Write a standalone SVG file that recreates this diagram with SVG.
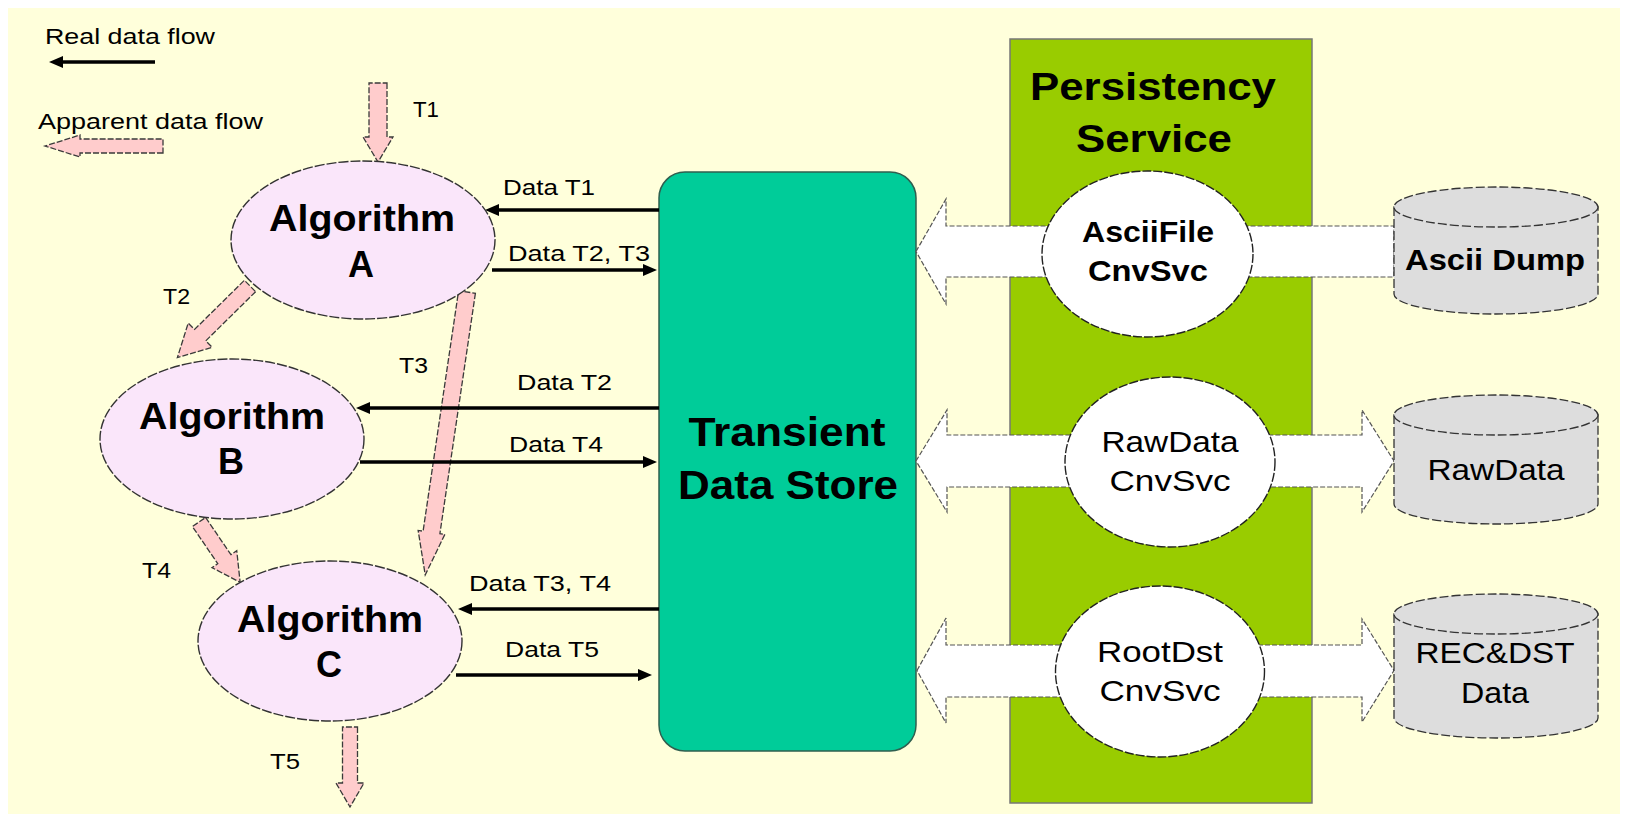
<svg xmlns="http://www.w3.org/2000/svg" width="1628" height="819" viewBox="0 0 1628 819">
  <defs>
    <style>
      .t { font-family: "Liberation Sans", Arial, sans-serif; fill: #000; }
      .sm { font-size: 22px; }
      .alg { font-size: 36px; font-weight: bold; }
      .big { font-size: 40px; font-weight: bold; }
      .svc { font-size: 30px; }
      .b { font-weight: bold; }
      .algo { fill: #FAE6FA; stroke: #333; stroke-width: 1.4; stroke-dasharray: 10 2; }
      .pink { fill: #FFCCCC; stroke: #3A3A3A; stroke-width: 1.3; stroke-dasharray: 6 2; }
      .flow { fill: #FFFFFF; stroke: #555; stroke-width: 1.2; stroke-dasharray: 5 2; }
      .cnv { fill: #FFFFFF; stroke: #222; stroke-width: 1.4; stroke-dasharray: 9 2; }
      .cyl { fill: #DDDDDD; stroke: #333; stroke-width: 1.3; stroke-dasharray: 9 3; }
      .real { stroke: #000; stroke-width: 3.5; fill: none; marker-end: url(#head); }
    </style>
    <marker id="head" viewBox="0 0 14 12" refX="9" refY="6" markerWidth="14" markerHeight="12" markerUnits="userSpaceOnUse" orient="auto">
      <path d="M0,0 L14,6 L0,12 Z" fill="#000"/>
    </marker>
  </defs>

  <!-- page -->
  <rect x="0" y="0" width="1628" height="819" fill="#FFFFFF"/>
  <rect x="8" y="8" width="1612" height="806" fill="#FFFFDB"/>

  <!-- legend -->
  <g id="legend">
    <text class="t sm" x="45" y="44" textLength="170" lengthAdjust="spacingAndGlyphs">Real data flow</text>
    <line class="real" x1="155" y1="62" x2="54" y2="62"/>
    <text class="t sm" x="38" y="129" textLength="225" lengthAdjust="spacingAndGlyphs">Apparent data flow</text>
    <polygon class="pink" transform="translate(163,146) rotate(180)" points="0,-7 83,-7 83,-11 118,0 83,11 83,7 0,7"/>
  </g>

  <!-- persistency service column -->
  <g id="persistency-service">
    <rect x="1010" y="39" width="302" height="764" fill="#99CC00" stroke="#777" stroke-width="1.5"/>
    <text class="t big" x="1153" y="100" text-anchor="middle" textLength="246" lengthAdjust="spacingAndGlyphs" style="font-size:38px">Persistency</text>
    <text class="t big" x="1154" y="152" text-anchor="middle" textLength="156" lengthAdjust="spacingAndGlyphs" style="font-size:38px">Service</text>
  </g>

  <!-- transient data store -->
  <g id="transient-data-store">
    <rect x="659" y="172" width="257" height="579" rx="26" ry="26" fill="#00CC99" stroke="#2F5F4F" stroke-width="1.5"/>
    <text class="t big" x="787" y="446" text-anchor="middle" textLength="197" lengthAdjust="spacingAndGlyphs">Transient</text>
    <text class="t big" x="788" y="499" text-anchor="middle" textLength="220" lengthAdjust="spacingAndGlyphs">Data Store</text>
  </g>

  <!-- connectors -->
  <g id="connectors">
    <!-- conversion flows between the store and persistent data -->
    <polygon class="flow" points="916,251.5 946,199 946,226 1394,226 1394,277 946,277 946,304"/>
    <polygon class="flow" points="916,461 947,410 947,435 1362,435 1362,410 1394,461 1362,512 1362,487 947,487 947,512"/>
    <polygon class="flow" points="917,670.5 946,618 946,645 1362,645 1362,619 1394,670.5 1362,722 1362,697 946,697 946,723"/>

    <!-- apparent data flow between algorithms -->
    <polygon class="pink" transform="translate(378,83) rotate(90)" points="0,-9 54,-9 54,-15 79,0 54,15 54,9 0,9"/>
    <polygon class="pink" transform="translate(250,286) rotate(135.4)" points="0,-8 70,-8 70,-17 102,0 70,17 70,8 0,8"/>
    <polygon class="pink" transform="translate(467,292) rotate(98.4)" points="0,-8.5 243,-8.5 243,-13.5 286,0 243,13.5 243,8.5 0,8.5"/>
    <polygon class="pink" transform="translate(199,522) rotate(55.7)" points="0,-8 45,-8 45,-15 73,0 45,15 45,8 0,8"/>
    <polygon class="pink" transform="translate(350,727) rotate(90)" points="0,-7.5 56,-7.5 56,-14 80,0 56,14 56,7.5 0,7.5"/>

    <text class="t sm" x="413" y="117" textLength="26" lengthAdjust="spacingAndGlyphs">T1</text>
    <text class="t sm" x="163" y="304" textLength="27" lengthAdjust="spacingAndGlyphs">T2</text>
    <text class="t sm" x="399" y="373" textLength="29" lengthAdjust="spacingAndGlyphs">T3</text>
    <text class="t sm" x="142" y="578" textLength="29" lengthAdjust="spacingAndGlyphs">T4</text>
    <text class="t sm" x="270" y="769" textLength="30" lengthAdjust="spacingAndGlyphs">T5</text>

    <!-- real data flow to and from the store -->
    <line class="real" x1="659" y1="210" x2="490" y2="210"/>
    <line class="real" x1="492" y1="270" x2="652" y2="270"/>
    <line class="real" x1="659" y1="408" x2="361" y2="408"/>
    <line class="real" x1="360" y1="462" x2="652" y2="462"/>
    <line class="real" x1="659" y1="609" x2="463" y2="609"/>
    <line class="real" x1="456" y1="675" x2="647" y2="675"/>

    <text class="t sm" x="503" y="195" textLength="92" lengthAdjust="spacingAndGlyphs">Data T1</text>
    <text class="t sm" x="508" y="261" textLength="142" lengthAdjust="spacingAndGlyphs">Data T2, T3</text>
    <text class="t sm" x="517" y="390" textLength="95" lengthAdjust="spacingAndGlyphs">Data T2</text>
    <text class="t sm" x="509" y="452" textLength="94" lengthAdjust="spacingAndGlyphs">Data T4</text>
    <text class="t sm" x="469" y="591" textLength="142" lengthAdjust="spacingAndGlyphs">Data T3, T4</text>
    <text class="t sm" x="505" y="657" textLength="94" lengthAdjust="spacingAndGlyphs">Data T5</text>
  </g>

  <!-- algorithms -->
  <g id="algorithm-a">
    <ellipse class="algo" cx="363" cy="240" rx="132" ry="79"/>
    <text class="t alg" x="362" y="231" text-anchor="middle" textLength="186" lengthAdjust="spacingAndGlyphs">Algorithm</text>
    <text class="t alg" x="361" y="277" text-anchor="middle">A</text>
  </g>
  <g id="algorithm-b">
    <ellipse class="algo" cx="232" cy="439" rx="132" ry="80"/>
    <text class="t alg" x="232" y="429" text-anchor="middle" textLength="186" lengthAdjust="spacingAndGlyphs">Algorithm</text>
    <text class="t alg" x="231" y="474" text-anchor="middle">B</text>
  </g>
  <g id="algorithm-c">
    <ellipse class="algo" cx="330" cy="641" rx="132" ry="80"/>
    <text class="t alg" x="330" y="632" text-anchor="middle" textLength="186" lengthAdjust="spacingAndGlyphs">Algorithm</text>
    <text class="t alg" x="329" y="677" text-anchor="middle">C</text>
  </g>

  <!-- conversion services -->
  <g id="asciifile-cnvsvc">
    <ellipse class="cnv" cx="1147.5" cy="254" rx="105.5" ry="83"/>
    <text class="t svc b" x="1148" y="242" text-anchor="middle" textLength="132" lengthAdjust="spacingAndGlyphs">AsciiFile</text>
    <text class="t svc b" x="1148" y="281" text-anchor="middle" textLength="120" lengthAdjust="spacingAndGlyphs">CnvSvc</text>
  </g>
  <g id="rawdata-cnvsvc">
    <ellipse class="cnv" cx="1170" cy="462" rx="105" ry="85"/>
    <text class="t svc" x="1170" y="452" text-anchor="middle" textLength="137" lengthAdjust="spacingAndGlyphs">RawData</text>
    <text class="t svc" x="1170" y="491" text-anchor="middle" textLength="121" lengthAdjust="spacingAndGlyphs">CnvSvc</text>
  </g>
  <g id="rootdst-cnvsvc">
    <ellipse class="cnv" cx="1160" cy="671.5" rx="104.5" ry="85.5"/>
    <text class="t svc" x="1160" y="662" text-anchor="middle" textLength="126" lengthAdjust="spacingAndGlyphs">RootDst</text>
    <text class="t svc" x="1160" y="701" text-anchor="middle" textLength="121" lengthAdjust="spacingAndGlyphs">CnvSvc</text>
  </g>

  <!-- persistent data stores -->
  <g id="ascii-dump">
    <path class="cyl" d="M1394,207 V294 A102,20 0 0 0 1598,294 V207 Z"/>
    <ellipse class="cyl" cx="1496" cy="207" rx="102" ry="20"/>
    <text class="t svc b" x="1495" y="270" text-anchor="middle" textLength="180" lengthAdjust="spacingAndGlyphs" style="font-size:29px">Ascii Dump</text>
  </g>
  <g id="rawdata-store">
    <path class="cyl" d="M1394,415 V504 A102,20 0 0 0 1598,504 V415 Z"/>
    <ellipse class="cyl" cx="1496" cy="415" rx="102" ry="20"/>
    <text class="t svc" x="1496" y="480" text-anchor="middle" textLength="137" lengthAdjust="spacingAndGlyphs" style="font-size:29px">RawData</text>
  </g>
  <g id="recdst-store">
    <path class="cyl" d="M1394,614 V718 A102,20 0 0 0 1598,718 V614 Z"/>
    <ellipse class="cyl" cx="1496" cy="614" rx="102" ry="20"/>
    <text class="t svc" x="1495" y="663" text-anchor="middle" textLength="159" lengthAdjust="spacingAndGlyphs" style="font-size:29px">REC&amp;DST</text>
    <text class="t svc" x="1495" y="703" text-anchor="middle" textLength="68" lengthAdjust="spacingAndGlyphs" style="font-size:29px">Data</text>
  </g>
</svg>
